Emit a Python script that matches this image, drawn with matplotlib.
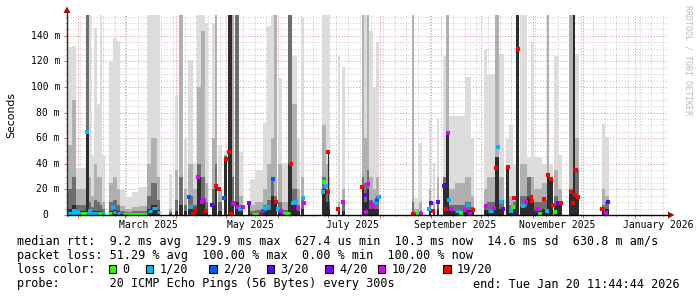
import matplotlib
matplotlib.use('Agg')
import matplotlib.pyplot as plt
import matplotlib.dates as mdates
from matplotlib.patches import Rectangle, Polygon
from datetime import datetime, timedelta

W, H = 697, 297
start = datetime(2025, 1, 25, 11, 44, 44)
end = datetime(2026, 1, 20, 11, 44, 44)

# ---------------- data ----------------
y_ticks = [0, 20, 40, 60, 80, 100, 120, 140]
y_tick_labels = ['0', '20 m', '40 m', '60 m', '80 m', '100 m', '120 m', '140 m']
x_label_dates = [datetime(2025, 3, 15, 12), datetime(2025, 5, 15, 12), datetime(2025, 7, 15, 12),
                 datetime(2025, 9, 15, 12), datetime(2025, 11, 15, 12), datetime(2026, 1, 15, 0)]
x_labels = ['March 2025', 'May 2025', 'July 2025', 'September 2025', 'November 2025', 'January 2026']

loss_labels = ['0', '1/20', '2/20', '3/20', '4/20', '10/20', '19/20']
loss_colors = ['#26ff00', '#00b8ff', '#0059ff', '#5e00ff', '#7e00ff', '#dd00ff', '#ff0000']

# smoke: (day_start, day_end, light_top, mid_top, dark_top, core_top)  values in ms
smoke = [
    (0, 2.8, 131, 55, 20, 5), (2.8, 5.4, 132, 90, 30, 8), (5.4, 11.4, 37, 20, 8, 3),
    (11.4, 13.4, 156, 156, 156, 65), (13.4, 14.2, 156, 30, 10, 3), (14.2, 16.4, 47, 15, 6, 3),
    (16.4, 17.8, 146, 40, 12, 3), (17.8, 19.8, 87, 30, 10, 3), (19.8, 21, 156, 30, 8, 3),
    (21, 22.8, 47, 10, 5, 2), (25.4, 27.4, 120, 25, 10, 3), (27.4, 29.8, 138, 30, 12, 4),
    (29.8, 31.8, 136, 20, 8, 3), (31.8, 35, 20, 7, 3, 1), (35, 39, 14, 5, 2, 1),
    (39, 43, 18, 6, 3, 1), (43, 47.8, 22, 7, 3, 1), (47.8, 50.4, 156, 40, 15, 5),
    (50.4, 54, 156, 60, 25, 8), (54, 55.8, 156, 30, 12, 4), (61.4, 63, 32, 5, 2, 1),
    (64.8, 66.8, 93, 35, 12, 3), (67.4, 69.4, 156, 156, 30, 8), (70.2, 72.2, 60, 20, 8, 3),
    (72.8, 75.4, 121, 40, 15, 5), (75.4, 77.8, 41, 20, 8, 3), (77.8, 80.4, 156, 100, 40, 30),
    (80.4, 82.8, 156, 144, 30, 12), (82.8, 84.8, 150, 25, 10, 4), (87, 88.8, 150, 60, 20, 8),
    (88.8, 90.2, 156, 156, 40, 22), (90.8, 92.8, 55, 20, 10, 3), (94.2, 95.8, 50, 47, 46, 45),
    (96.6, 99, 156, 156, 156, 156), (99.2, 100.4, 156, 156, 30, 8), (100.8, 103, 156, 156, 156, 10),
    (103, 105.8, 49, 15, 8, 3), (108.8, 109.8, 10, 10, 9, 9), (109.8, 113, 28, 8, 3, 1),
    (113, 117.8, 35, 10, 4, 1), (117.8, 119.8, 72, 20, 8, 3), (119.8, 122.2, 148, 40, 12, 4),
    (122.2, 124.2, 156, 60, 28, 15), (124.2, 126.2, 156, 156, 15, 10), (126.4, 128.8, 107, 40, 10, 4),
    (128.8, 132.8, 41, 10, 4, 1), (132.8, 135.2, 156, 156, 156, 40), (135.2, 137.8, 124, 87, 20, 8),
    (137.8, 139.8, 60, 20, 8, 3), (140.4, 142.4, 155, 30, 12, 5), (152.8, 155.6, 156, 70, 30, 20),
    (155.6, 156.6, 156, 40, 20, 10), (156.6, 157.2, 156, 48, 48, 48), (157.2, 157.8, 156, 30, 10, 5),
    (162.8, 163.8, 124, 10, 5, 5), (164.8, 166.8, 116, 20, 10, 3),
    (176.8, 178.4, 156, 156, 30, 22), (178.4, 179.8, 156, 60, 25, 10), (179.8, 181.4, 156, 156, 35, 20),
    (181.4, 183.4, 144, 30, 12, 5), (183.4, 185.4, 100, 20, 10, 5), (185.4, 187.4, 135, 30, 15, 5),
    (206.8, 208.2, 156, 156, 10, 2), (208.2, 211.4, 13, 5, 2, 1), (211.4, 213, 56, 10, 3, 1),
    (217, 218.2, 74, 20, 10, 5), (219.8, 220.8, 41, 10, 5, 3), (221.8, 223.2, 76, 30, 12, 5),
    (225.8, 227.4, 124, 30, 30, 25), (227.4, 229.4, 156, 156, 65, 64), (229.4, 232.8, 77, 20, 8, 3),
    (232.8, 238.8, 77, 25, 8, 3), (238.8, 242.2, 108, 30, 10, 4), (242.2, 244.2, 60, 15, 6, 3),
    (250.2, 252.2, 130, 20, 8, 4), (252.2, 256.8, 110, 30, 10, 4), (256.8, 259.4, 156, 156, 45, 45),
    (259.4, 262.2, 126, 30, 12, 5), (263.4, 265.4, 60, 38, 38, 37), (265.4, 267.8, 70, 15, 8, 3),
    (267.8, 269.4, 40, 15, 10, 5), (269.4, 271.4, 156, 156, 156, 156), (271.8, 276.2, 156, 40, 15, 6),
    (276.2, 278.2, 45, 30, 30, 14), (278.2, 280.2, 135, 30, 12, 10), (280.2, 284.8, 45, 20, 10, 3),
    (284.8, 287.8, 40, 25, 12, 5), (287.8, 289.4, 156, 156, 31, 31), (289.4, 291.8, 40, 30, 28, 28),
    (292.2, 294.8, 124, 35, 15, 8), (294.8, 297.2, 47, 20, 10, 8), (301.4, 303.4, 156, 156, 20, 18),
    (303.4, 304.8, 156, 156, 156, 156), (304.8, 307.4, 126, 60, 35, 14), (320.8, 322.8, 71, 20, 8, 3),
    (322.8, 325.4, 61, 15, 10, 5),
]

# median points: (day, median_ms, loss_index)
median_points = [
    (12.2, 64.6, 1), (4.2, 3.4, 1), (6.8, 2.3, 1), (13.8, 3.4, 1), (27.8, 6.4, 1),
    (73.0, 14, 2), (74.4, 6.5, 1), (75.4, 1, 6), (76.8, 4.3, 6), (78.4, 30, 5), (80.8, 10.4, 5),
    (82.2, 11.7, 5), (83.2, 3.4, 6), (87.0, 7.6, 3), (89.2, 22.6, 6), (91.2, 20, 6), (94.2, 13, 2),
    (95.2, 44, 6), (97.0, 49.5, 6), (98.2, 1, 6), (99.4, 8.6, 2), (100.2, 9.6, 5), (102.4, 6.5, 5),
    (103.8, 4.3, 1), (105.4, 6.5, 5), (109.0, 9, 4), (116.4, 1, 6), (117.4, 3.4, 2), (119.0, 5.3, 1),
    (120.8, 6.4, 1), (123.4, 28, 2), (125.2, 10, 6), (126.8, 4.3, 1), (128.2, 3.4, 5), (134.2, 40, 6),
    (135.4, 9, 1), (137.4, 10, 1), (138.6, 5.5, 5), (141.4, 13.5, 1), (142.2, 9.6, 5),
    (153.4, 18, 1), (154.2, 26, 0), (155.4, 23, 1), (156.4, 18, 6), (156.6, 49, 6), (162.8, 5, 6),
    (165.4, 10, 5), (177.2, 21.6, 6), (179.4, 16, 3), (179.4, 2, 5), (180.6, 24, 5), (182.4, 9, 5),
    (183.4, 6, 5), (185.4, 10, 1), (186.2, 11.7, 2), (187.2, 14, 1), (207.8, 0.5, 6), (210.8, 1, 0),
    (212.4, 1, 5), (217.0, 5, 1), (218.2, 9.6, 3), (219.8, 3.4, 6), (222.4, 10, 3), (226.2, 22.6, 3),
    (227.4, 5, 6), (228.4, 64, 5), (229.4, 11.7, 1), (230.2, 4.4, 5), (236.4, 1.3, 0), (238.8, 4, 5),
    (240.8, 8, 1), (241.8, 1, 5), (243.4, 4, 6), (251.4, 7, 5), (256.2, 5.6, 5), (257.4, 36.5, 6),
    (258.4, 53, 1), (260.2, 10, 1), (261.4, 4.4, 3), (264.8, 37.7, 6), (266.2, 3.4, 1), (267.4, 6.4, 0),
    (268.2, 13.5, 6), (270.6, 130, 6), (273.4, 7, 1), (275.2, 10, 5), (278.2, 14, 6), (279.2, 11, 6),
    (281.8, 3.4, 3), (282.4, 4.4, 5), (283.8, 1, 0), (286.4, 12.5, 6), (287.8, 3.4, 1), (288.4, 31, 6),
    (290.2, 28, 6), (291.8, 8, 6), (292.8, 2.3, 0), (294.8, 9, 3), (296.2, 9.6, 6), (302.2, 18, 6),
    (303.8, 9.6, 6), (305.0, 16, 6), (305.4, 35, 6), (306.8, 14, 6), (320.8, 5, 6), (323.4, 1.3, 5),
    (324.4, 10, 3),
]

# median runs along the bottom: (day_start, day_end, median_ms, loss_index)
median_runs = [
    (0, 7.8, 1.3, 1), (7.8, 11.8, 1.3, 0), (11.8, 18.6, 1.3, 1), (18.6, 21, 1.3, 0),
    (21, 22.8, 1.3, 1), (24.6, 27, 1.3, 0), (27.6, 29.4, 2.3, 1), (30, 31.8, 1.5, 1),
    (33.8, 47.8, 1.0, 0), (48.6, 51, 3.4, 1), (51, 54, 5.5, 1), (54, 55.8, 2.3, 1),
    (110.8, 115.8, 1.0, 0), (129.6, 133.8, 1.5, 0), (232.8, 235.8, 3.4, 1), (252.6, 255.6, 3.4, 1),
]

legend_rtt = 'median rtt:  9.2 ms avg  129.9 ms max  627.4 us min  10.3 ms now  14.6 ms sd  630.8 m am/s'
legend_loss = 'packet loss: 51.29 % avg  100.00 % max  0.00 % min  100.00 % now'
legend_probe = 'probe:       20 ICMP Echo Pings (56 Bytes) every 300s'
legend_end = 'end: Tue Jan 20 11:44:44 2026'

# ---------------- drawing ----------------
MONO = 'DejaVu Sans Mono'
fig = plt.figure(figsize=(W / 100, H / 100), dpi=100)
fig.patch.set_facecolor('white')
L, R, T, B = 67, 667, 15, 215
YMAX = 156.25
ax = fig.add_axes([L / W, 1 - B / H, (R - L) / W, (B - T) / H])
t0 = mdates.date2num(start)
t1 = mdates.date2num(end)
ax.set_xlim(t0, t1)
ax.set_ylim(0, YMAX)
for s in ax.spines.values():
    s.set_visible(False)
ax.set_facecolor('white')

# grid
d = datetime(start.year, start.month, start.day) + timedelta(days=1)
weeks, months = [], []
while d < end:
    if d.day == 1:
        months.append(mdates.date2num(d))
    elif d.weekday() == 6:
        weeks.append(mdates.date2num(d))
    d += timedelta(days=1)
dot = (0, (1.2, 1.8))
for xv in weeks:
    ax.axvline(xv, color='#cccccc', lw=0.7, ls=dot, zorder=0)
for yv in range(5, 160, 5):
    if yv % 20:
        ax.axhline(yv, color='#cccccc', lw=0.7, ls=dot, zorder=0)
for xv in months:
    ax.axvline(xv, color='#e39a9a', lw=0.7, ls=dot, zorder=0.5)
for yv in y_ticks[1:]:
    ax.axhline(yv, color='#e39a9a', lw=0.7, ls=dot, zorder=0.5)

# smoke
shades = ['#dcdcdc', '#b0b0b0', '#6e6e6e', '#2c2c2c']
for d0, d1, *levels in smoke:
    for lev, col in zip(levels, shades):
        ax.bar(t0 + d0, min(lev, YMAX), width=d1 - d0, align='edge', color=col,
               linewidth=0, antialiased=False, zorder=2)

# medians
for d0, d1, v, li in median_runs:
    ax.hlines(v, t0 + d0, t0 + d1, color=loss_colors[li], lw=2.2, zorder=4)
for dd, v, li in median_points:
    ax.plot([t0 + dd], [v], marker='s', ms=2.2, mew=0, color=loss_colors[li], zorder=5)

# ticks
ax.set_xticks(months)
ax.set_xticks(weeks, minor=True)
ax.set_yticks(y_ticks)
ax.set_yticks([v for v in range(5, 160, 5) if v % 20], minor=True)
ax.tick_params(which='major', direction='out', length=2.5, width=0.7, color='#d06060',
               labelbottom=False, labelleft=False)
ax.tick_params(which='minor', direction='out', length=1.5, width=0.6, color='#b0b0b0')

# overlay for texts and axis decorations
ov = fig.add_axes([0, 0, 1, 1], zorder=10)
ov.set_xlim(0, W)
ov.set_ylim(H, 0)
ov.axis('off')
ov.patch.set_alpha(0)

ov.plot([L, 669], [B, B], color='black', lw=1.0, solid_capstyle='butt')
ov.plot([L, L], [B + 1, 12], color='#303030', lw=1.0, solid_capstyle='butt')
ov.add_patch(Polygon([(668, 211.5), (668, 218.5), (674.5, 215)], closed=True, color='#a01010', lw=0))
ov.add_patch(Polygon([(63.5, 13), (70.5, 13), (67, 6.5)], closed=True, color='#a01010', lw=0))

# y tick labels
for v, lab in zip(y_ticks, y_tick_labels):
    ypx = B - v * (B - T) / YMAX
    xr = 60 - 2 * 5.9 if lab == '0' else 60
    ov.text(xr, ypx, lab, ha='right', va='center', family=MONO, fontsize=7.05)

# x tick labels
for dt, lab in zip(x_label_dates, x_labels):
    xpx = L + (mdates.date2num(dt) - t0) / (t1 - t0) * (R - L)
    ov.text(xpx, 225.5, lab, ha='center', va='center', family=MONO, fontsize=7.05)

ov.text(11, 115, 'Seconds', rotation=90, ha='center', va='center', family='DejaVu Sans', fontsize=7.8)
ov.text(688, 60, 'RRDTOOL / TOBI OETIKER', rotation=270, ha='center', va='center',
        family=MONO, fontsize=6.0, color='#bdbdbd')

# legend
FS = 8.43
ov.text(17, 241, legend_rtt, ha='left', va='center', family=MONO, fontsize=FS)
ov.text(17, 255.5, legend_loss, ha='left', va='center', family=MONO, fontsize=FS)
ov.text(17, 269.5, 'loss color:', ha='left', va='center', family=MONO, fontsize=FS)
box_x = [108.5, 145.5, 209, 266.5, 325, 377.5, 443]
for bx, lab, col in zip(box_x, loss_labels, loss_colors):
    ov.add_patch(Rectangle((bx, 265), 7.5, 8, facecolor=col, edgecolor='black', lw=0.8))
    ov.text(bx + 14, 269.5, lab, ha='left', va='center', family=MONO, fontsize=FS)
ov.text(17, 284, legend_probe, ha='left', va='center', family=MONO, fontsize=FS)
ov.text(680, 284, legend_end, ha='right', va='center', family=MONO, fontsize=FS)

fig.savefig('out.png', dpi=100, facecolor='white')
